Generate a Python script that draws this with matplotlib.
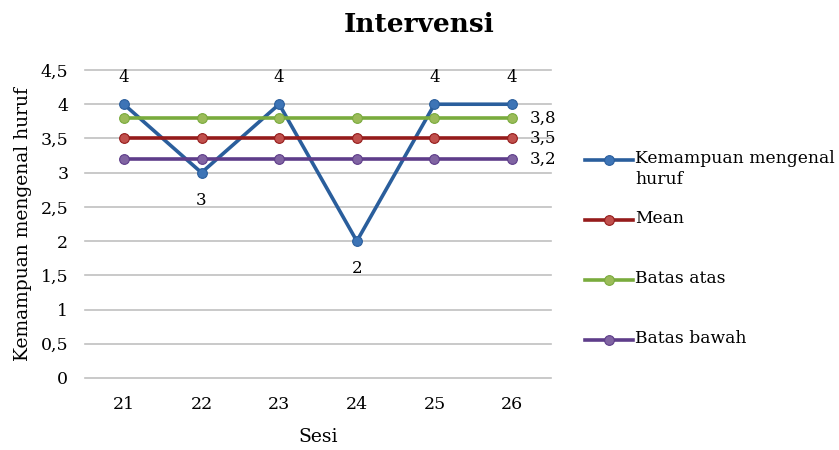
import matplotlib
matplotlib.use("Agg")
import matplotlib.pyplot as plt
from matplotlib.lines import Line2D
from matplotlib.ticker import FuncFormatter

plt.rcParams['font.family'] = ['DejaVu Serif']

sesi = [21, 22, 23, 24, 25, 26]
kemampuan = [4, 3, 4, 2, 4, 4]
mean = [3.5] * 6
batas_atas = [3.8] * 6
batas_bawah = [3.2] * 6
y_ticks = [0, 0.5, 1, 1.5, 2, 2.5, 3, 3.5, 4, 4.5]

series = [
    ("Kemampuan mengenal\nhuruf", kemampuan, "#2a5e9c", "#3d74b6"),
    ("Mean", mean, "#951b1b", "#c0504d"),
    ("Batas atas", batas_atas, "#79ab3d", "#9bbb59"),
    ("Batas bawah", batas_bawah, "#5e3d8a", "#8064a2"),
]

W, H = 839, 450
fig = plt.figure(figsize=(W / 100, H / 100), dpi=100)
ax = fig.add_axes([85 / W, 1 - 378 / H, (551 - 85) / W, (378 - 70) / H])

x = list(range(len(sesi)))
for label, vals, lc, mc in series:
    ax.plot(x, vals, color=lc, lw=2.6, marker='o', ms=7,
            markerfacecolor=mc, markeredgecolor=lc, markeredgewidth=0.8,
            solid_capstyle='round')


def comma(v):
    return f"{v:g}".replace('.', ',')


# value labels on the main series
for xi, v in zip(x, kemampuan):
    below = v < 4
    ax.annotate(comma(v), (xi, v),
                xytext=(0, -20 if below else 19), textcoords='offset points',
                ha='center', va='center', fontsize=12)

# value labels at the right end of the reference lines
for vals in (batas_atas, mean, batas_bawah):
    ax.annotate(comma(vals[-1]), (x[-1], vals[-1]),
                xytext=(13, 0), textcoords='offset points',
                ha='left', va='center', fontsize=12)

ax.set_xlim(-0.5, len(sesi) - 0.5)
ax.set_ylim(0, 4.5)
ax.set_yticks(y_ticks)
ax.yaxis.set_major_formatter(FuncFormatter(lambda v, p: comma(v)))
ax.set_xticks(x)
ax.set_xticklabels([str(s) for s in sesi])
ax.tick_params(length=0, labelsize=12.5)
ax.tick_params(axis='x', pad=13)
ax.tick_params(axis='y', pad=12)
ax.grid(axis='y', color='#c0c0c0', lw=1.2)
ax.set_axisbelow(True)
for gl in ax.get_ygridlines():
    gl.set_clip_on(False)
for s in ax.spines.values():
    s.set_visible(False)

ax.set_xlabel("Sesi", fontsize=13.5, labelpad=11)
ax.set_ylabel("Kemampuan mengenal huruf", fontsize=13.5, labelpad=6)

fig.text(0.5, 1 - 25 / H, "Intervensi", ha='center', va='center',
         fontsize=19, fontweight='bold')

# legend on the right
legend_y = [160, 220, 280, 340]
for (label, vals, lc, mc), yy in zip(series, legend_y):
    fy = 1 - yy / H
    fig.add_artist(Line2D([585 / W, 633 / W], [fy, fy], color=lc, lw=2.6,
                          transform=fig.transFigure))
    fig.add_artist(Line2D([609 / W], [fy], color=lc, marker='o', ms=7,
                          markerfacecolor=mc, markeredgecolor=lc,
                          markeredgewidth=0.8, transform=fig.transFigure))
    fig.text(635 / W, fy + 10 / H, label, ha='left', va='top', fontsize=12.3,
             linespacing=1.3)

fig.savefig("out.png", dpi=100)
